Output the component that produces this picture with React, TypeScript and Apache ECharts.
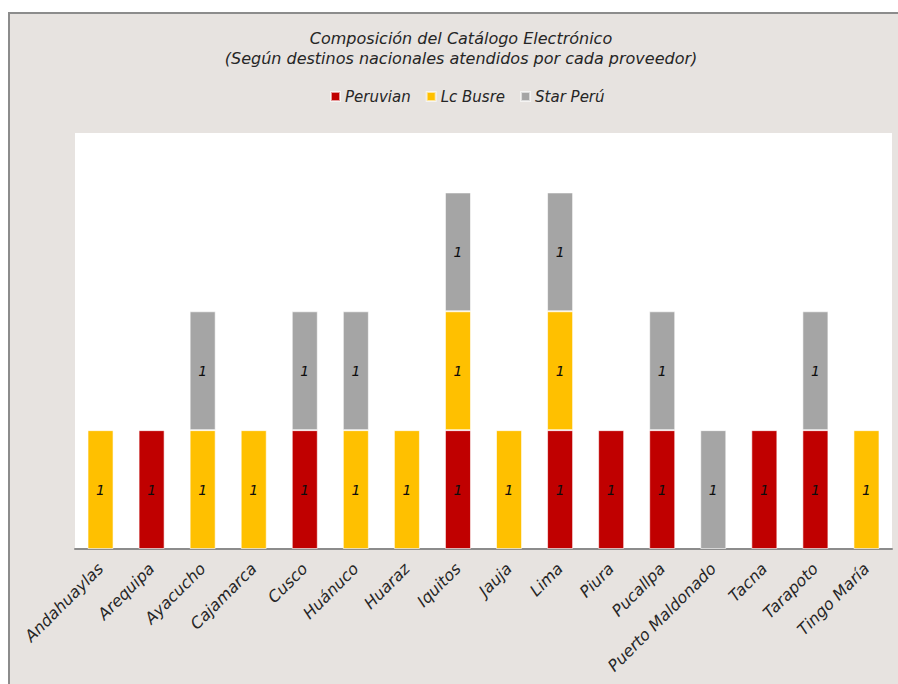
import React, { useEffect, useRef } from "react";
import * as echarts from "echarts";

const categories = [
  "Andahuaylas", "Arequipa", "Ayacucho", "Cajamarca", "Cusco", "Huánuco", "Huaraz", "Iquitos",
  "Jauja", "Lima", "Piura", "Pucallpa", "Puerto Maldonado", "Tacna", "Tarapoto", "Tingo María",
];
const peruvian = [null, 1, null, null, 1, null, null, 1, null, 1, 1, 1, null, 1, 1, null];
const lcBusre = [1, null, 1, 1, null, 1, 1, 1, 1, 1, null, null, null, null, null, 1];
const starPeru = [null, null, 1, null, 1, 1, null, 1, null, 1, null, 1, 1, null, 1, null];
const seriesNames = ["Peruvian", "Lc Busre", "Star Perú"];
const seriesColors = ["#C00000", "#FFC000", "#A5A5A5"];
const titleLines = ["Composición del Catálogo Electrónico", "(Según destinos nacionales atendidos por cada proveedor)"];

const FONT = '"DejaVu Sans", sans-serif';

export default function App() {
  const ref = useRef<HTMLDivElement>(null);
  useEffect(() => {
    if (!ref.current) return;
    const chart = echarts.init(ref.current, null, { renderer: "svg" });
    const values = [peruvian, lcBusre, starPeru];
    chart.setOption({
      animation: false,
      backgroundColor: "#FFFFFF",
      graphic: [
        {
          type: "rect",
          z: -10,
          shape: { x: 9, y: 13, width: 1000, height: 1000 },
          style: { fill: "#E7E3E0", stroke: "#8C8C8C", lineWidth: 2 },
        },
        ...titleLines.map((t, i) => ({
          type: "text",
          x: 461,
          y: 38 + i * 20,
          style: {
            text: t,
            fontSize: 16,
            fontStyle: "italic",
            fontFamily: FONT,
            fill: "#262626",
            textAlign: "center",
            textVerticalAlign: "middle",
          },
        })),
      ],
      legend: {
        left: 330,
        top: 89,
        padding: 0,
        itemWidth: 9,
        itemHeight: 9,
        itemGap: 15,
        icon: "rect",
        textStyle: { fontSize: 15, fontStyle: "italic", fontFamily: FONT, color: "#262626" },
        data: seriesNames,
      },
      grid: {
        left: 75,
        top: 133,
        width: 817,
        height: 416,
        show: true,
        backgroundColor: "#FFFFFF",
        borderWidth: 0,
        containLabel: false,
      },
      xAxis: {
        type: "category",
        data: categories,
        axisLine: { show: true, lineStyle: { color: "#8C8C8C", width: 2 } },
        axisTick: { show: false },
        axisLabel: {
          interval: 0,
          rotate: 45,
          margin: 17,
          fontSize: 16,
          fontStyle: "italic",
          fontFamily: FONT,
          color: "#262626",
        },
      },
      yAxis: {
        type: "value",
        min: 0,
        max: 3.5,
        show: false,
        splitLine: { show: false },
      },
      series: seriesNames.map((name, i) => ({
        name,
        type: "bar",
        stack: "total",
        barCategoryGap: "49%",
        data: values[i].map((v) => (v == null ? "-" : v)),
        itemStyle: { color: seriesColors[i], borderColor: "rgba(255,255,255,0.6)", borderWidth: 1 },
        label: {
          show: true,
          position: "inside",
          formatter: "{c}",
          fontSize: 14,
          fontStyle: "italic",
          fontFamily: FONT,
          color: "#0D0D0D",
        },
      })),
    });
    return () => chart.dispose();
  }, []);
  return (
    <div
      ref={ref}
      style={{ position: "absolute", left: 0, top: 0, width: 898, height: 684 }}
    />
  );
}
